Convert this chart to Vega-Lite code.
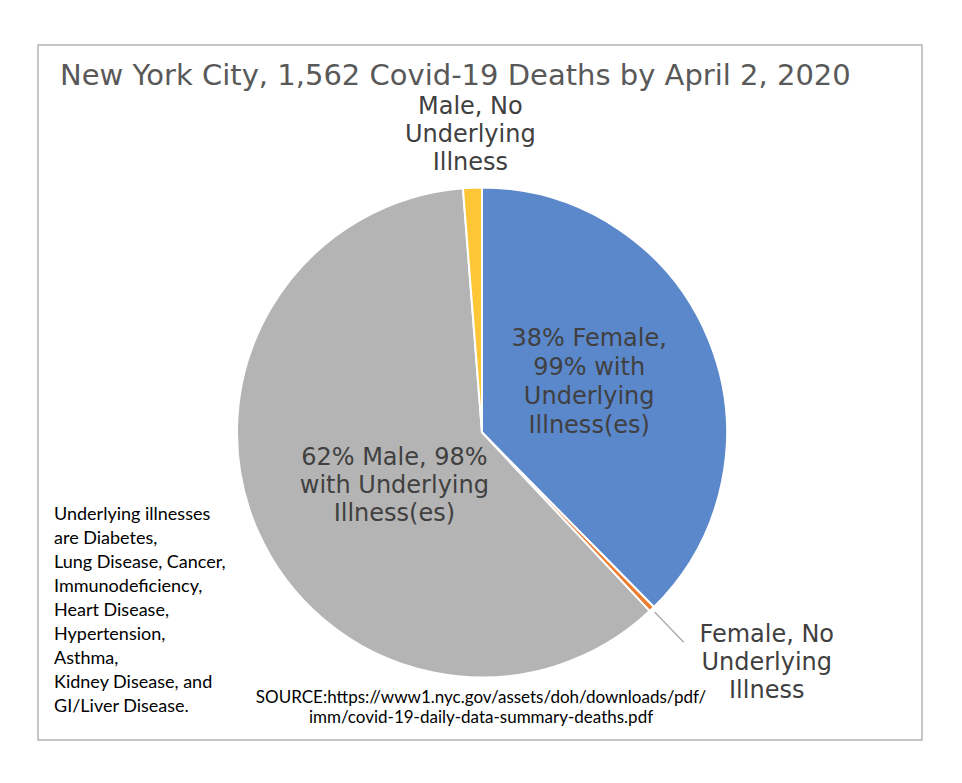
{
  "$schema": "https://vega.github.io/schema/vega-lite/v6.json",
  "autosize": "none",
  "width": 884,
  "height": 695,
  "padding": {"left": 38, "top": 45, "right": 40, "bottom": 43},
  "background": "white",
  "view": {"stroke": "#b4b4b4", "strokeWidth": 1.5, "fill": "white"},
  "config": {
    "text": {"lineBreak": "\n"}
  },
  "title": {
    "text": "New York City, 1,562 Covid-19 Deaths by April 2, 2020",
    "anchor": "start",
    "frame": "group",
    "orient": "none",
    "baseline": "middle",
    "dx": 22,
    "dy": 31,
    "font": "DejaVu Sans",
    "fontSize": 29,
    "fontWeight": "normal",
    "color": "#595959"
  },
  "layer": [
    {
      "data": {
        "values": [
          {"key": "F1", "group": "Female, with underlying illness", "pct": 37.62, "order": 1, "label": "38% Female,\n99% with\nUnderlying\nIllness(es)"},
          {"key": "F0", "group": "Female, no underlying illness", "pct": 0.38, "order": 2, "label": "Female, No\nUnderlying\nIllness"},
          {"key": "M1", "group": "Male, with underlying illness", "pct": 60.76, "order": 3, "label": "62% Male, 98%\nwith Underlying\nIllness(es)"},
          {"key": "M0", "group": "Male, no underlying illness", "pct": 1.24, "order": 4, "label": "Male, No\nUnderlying\nIllness"}
        ]
      },
      "encoding": {
        "theta": {"field": "pct", "type": "quantitative", "stack": true},
        "order": {"field": "order", "type": "quantitative"},
        "detail": {"field": "key", "type": "nominal"}
      },
      "layer": [
        {
          "mark": {"type": "arc", "outerRadius": 245, "stroke": "white", "strokeWidth": 2, "xOffset": 2, "yOffset": 40},
          "encoding": {
            "color": {
              "field": "key",
              "type": "nominal",
              "scale": {"domain": ["F1", "F0", "M1", "M0"], "range": ["#5B87CB", "#ED7D31", "#B4B4B4", "#FCC636"]},
              "legend": null
            }
          }
        },
        {
          "mark": {"type": "arc", "innerRadius": 249, "outerRadius": 291, "padAngle": 0.5, "fillOpacity": 0, "stroke": "#a6a6a6", "strokeWidth": 1.2, "xOffset": 2, "yOffset": 40},
          "encoding": {
            "strokeOpacity": {"condition": {"test": "datum.key === 'F0'", "value": 1}, "value": 0}
          }
        },
        {
          "mark": {"type": "text", "radius": 118, "xOffset": 2, "yOffset": 40, "dx": -2, "dy": -49, "font": "DejaVu Sans", "fontSize": 24, "lineHeight": 29, "align": "center", "baseline": "middle", "color": "#404040"},
          "encoding": {"text": {"condition": {"test": "datum.key === 'F1'", "field": "label"}, "value": ""}}
        },
        {
          "mark": {"type": "text", "radius": 110, "xOffset": 2, "yOffset": 40, "dx": 13, "dy": -19, "font": "DejaVu Sans", "fontSize": 24, "lineHeight": 28, "align": "center", "baseline": "middle", "color": "#404040"},
          "encoding": {"text": {"condition": {"test": "datum.key === 'M1'", "field": "label"}, "value": ""}}
        },
        {
          "mark": {"type": "text", "radius": 299, "xOffset": 2, "yOffset": 40, "dy": -27, "font": "DejaVu Sans", "fontSize": 24, "lineHeight": 28, "align": "center", "baseline": "middle", "color": "#404040"},
          "encoding": {"text": {"condition": {"test": "datum.key === 'M0'", "field": "label"}, "value": ""}}
        },
        {
          "mark": {"type": "text", "radius": 366, "xOffset": 2, "yOffset": 40, "dx": 31, "dy": -61, "font": "DejaVu Sans", "fontSize": 24, "lineHeight": 28, "align": "center", "baseline": "middle", "color": "#404040"},
          "encoding": {"text": {"condition": {"test": "datum.key === 'F0'", "field": "label"}, "value": ""}}
        }
      ]
    },
    {
      "data": {"values": [{"note": "Underlying illnesses\nare Diabetes,\nLung Disease, Cancer,\nImmunodeficiency,\nHeart Disease,\nHypertension,\nAsthma,\nKidney Disease, and\nGI/Liver Disease."}]},
      "mark": {"type": "text", "x": 16, "y": 461, "align": "left", "baseline": "top", "font": "Lato", "fontSize": 18, "lineHeight": 24, "color": "black"},
      "encoding": {"text": {"field": "note", "type": "nominal"}}
    },
    {
      "data": {"values": [{"source": "SOURCE:https://www1.nyc.gov/assets/doh/downloads/pdf/\nimm/covid-19-daily-data-summary-deaths.pdf"}]},
      "mark": {"type": "text", "x": 443, "y": 645, "align": "center", "baseline": "top", "font": "Lato", "fontSize": 17, "lineHeight": 20, "color": "black"},
      "encoding": {"text": {"field": "source", "type": "nominal"}}
    }
  ]
}
